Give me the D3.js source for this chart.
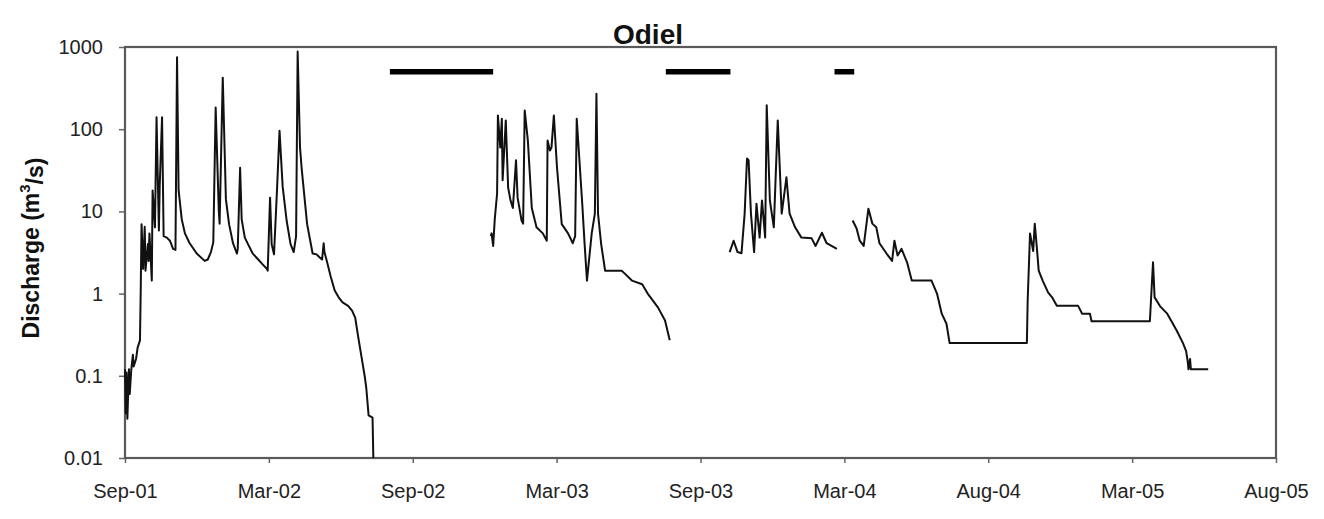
<!DOCTYPE html>
<html lang="en">
<head>
    <meta charset="UTF-8">
    <title>Odiel discharge</title>
    <script src="https://d3js.org/d3.v7.min.js"></script>
    <style>
        body { margin: 0; background: #fff; }
        text { font-family: "Liberation Sans", Arial, sans-serif; }
    </style>
</head>
<body>
<script>
    // record periods (date, discharge m3/s)
    var period1 = [
        ["2001-09-01",0.12],["2001-09-02",0.035],["2001-09-03",0.11],["2001-09-04",0.03],
        ["2001-09-06",0.12],["2001-09-07",0.06],["2001-09-09",0.12],["2001-09-11",0.18],
        ["2001-09-12",0.13],["2001-09-15",0.16],["2001-09-17",0.22],["2001-09-20",0.27],
        ["2001-09-21",1.2],["2001-09-22",7],["2001-09-24",2.0],["2001-09-26",6.5],
        ["2001-09-27",1.9],["2001-09-30",4],["2001-10-01",2.5],["2001-10-02",5.4],
        ["2001-10-05",1.44],["2001-10-06",18],["2001-10-09",6.4],["2001-10-11",140],
        ["2001-10-14",5.85],["2001-10-15",20],["2001-10-18",140],["2001-10-20",5],
        ["2001-10-24",4.8],["2001-10-28",4.4],["2001-11-01",3.5],["2001-11-04",3.4],
        ["2001-11-06",750],["2001-11-08",18],["2001-11-12",8],["2001-11-16",5.4],
        ["2001-11-22",4.1],["2001-12-01",3.07],["2001-12-11",2.5],["2001-12-15",2.6],
        ["2001-12-19",3.2],["2001-12-22",4.2],["2001-12-25",184],["2001-12-29",10],
        ["2001-12-30",7.1],["2002-01-03",424],["2002-01-07",14],["2002-01-11",7],
        ["2002-01-16",4.1],["2002-01-21",3.07],["2002-01-22",3.5],["2002-01-25",34],
        ["2002-01-27",8],["2002-01-31",4.8],["2002-02-04",4.0],["2002-02-10",3.07],
        ["2002-02-17",2.6],["2002-02-22",2.3],["2002-02-28",2.0],["2002-03-01",1.9],
        ["2002-03-04",14.7],["2002-03-06",4],["2002-03-09",3.0],["2002-03-13",20],
        ["2002-03-16",96],["2002-03-20",20],["2002-03-25",7.75],["2002-03-30",4],
        ["2002-04-03",3.2],["2002-04-06",5],["2002-04-08",880],["2002-04-11",60],
        ["2002-04-13",34],["2002-04-20",7],["2002-04-27",3.07],["2002-05-02",3.0],
        ["2002-05-06",2.75],["2002-05-09",2.6],["2002-05-11",4.1],["2002-05-12",3.2],
        ["2002-05-15",2.5],["2002-05-20",1.6],["2002-05-25",1.09],["2002-05-30",0.9],
        ["2002-06-04",0.78],["2002-06-11",0.71],["2002-06-16",0.62],["2002-06-20",0.51],
        ["2002-06-24",0.29],["2002-06-28",0.17],["2002-07-02",0.1],["2002-07-04",0.072],
        ["2002-07-07",0.033],["2002-07-12",0.031],["2002-07-13",0.01]
    ];
    var period2 = [
        ["2002-12-09",5.0],["2002-12-10",5.4],["2002-12-12",3.8],["2002-12-14",8],
        ["2002-12-17",16.5],["2002-12-18",147],["2002-12-21",60],["2002-12-23",134],
        ["2002-12-24",24],["2002-12-28",128],["2002-12-31",19.5],["2003-01-03",13.6],
        ["2003-01-06",11],["2003-01-10",42],["2003-01-12",14.7],["2003-01-17",7.75],
        ["2003-01-19",7.1],["2003-01-21",169],["2003-01-25",73],["2003-01-30",11],
        ["2003-02-05",6.4],["2003-02-13",5.4],["2003-02-18",4.4],["2003-02-19",73],
        ["2003-02-22",55],["2003-02-24",60],["2003-02-27",147],["2003-03-03",34],
        ["2003-03-09",7],["2003-03-17",5.4],["2003-03-23",4.1],["2003-03-26",5],
        ["2003-03-28",134],["2003-04-04",12.4],["2003-04-07",4],["2003-04-10",1.44],
        ["2003-04-16",5.4],["2003-04-20",9.4],["2003-04-22",270],["2003-04-24",9.4],
        ["2003-04-28",4],["2003-05-03",1.9],["2003-05-24",1.9],["2003-05-28",1.75],
        ["2003-06-06",1.44],["2003-06-19",1.3],["2003-06-26",1.0],["2003-07-09",0.68],
        ["2003-07-18",0.47],["2003-07-24",0.27]
    ];
    var period3 = [
        ["2003-10-08",3.2],["2003-10-13",4.4],["2003-10-18",3.2],["2003-10-23",3.1],
        ["2003-10-27",9.4],["2003-10-30",44],["2003-11-01",42],["2003-11-04",9.4],
        ["2003-11-08",3.2],["2003-11-11",12.4],["2003-11-15",4.8],["2003-11-18",13.6],
        ["2003-11-22",4.8],["2003-11-24",195],["2003-11-28",13.6],["2003-12-03",6.4],
        ["2003-12-08",128],["2003-12-13",9.4],["2003-12-19",26],["2003-12-23",9.4],
        ["2003-12-30",6.4],["2004-01-07",4.8],["2004-01-20",4.7],["2004-01-25",3.8],
        ["2004-02-02",5.5],["2004-02-08",4.1],["2004-02-21",3.5]
    ];
    var period4 = [
        ["2004-03-12",7.75],["2004-03-17",6.2],["2004-03-21",4.4],["2004-03-26",3.8],
        ["2004-04-01",10.8],["2004-04-06",7.1],["2004-04-11",6.4],["2004-04-15",4.1],
        ["2004-04-24",3.07],["2004-05-01",2.5],["2004-05-04",4.4],["2004-05-08",2.9],
        ["2004-05-13",3.5],["2004-05-20",2.4],["2004-05-26",1.44],["2004-06-20",1.44],
        ["2004-06-27",1.0],["2004-07-03",0.57],["2004-07-09",0.43],["2004-07-13",0.25],
        ["2004-10-19",0.25],["2004-10-20",0.82],["2004-10-23",5.4],["2004-10-27",3.3],
        ["2004-10-29",7.1],["2004-11-01",3.3],["2004-11-03",1.9],["2004-11-08",1.44],
        ["2004-11-15",1.03],["2004-11-20",0.9],["2004-11-26",0.71],["2004-12-23",0.71],
        ["2004-12-28",0.57],["2005-01-07",0.57],["2005-01-09",0.46],["2005-03-24",0.46],
        ["2005-03-28",2.4],["2005-03-30",0.9],["2005-04-06",0.7],["2005-04-15",0.57],
        ["2005-04-21",0.45],["2005-04-27",0.355],["2005-05-05",0.25],["2005-05-09",0.2],
        ["2005-05-11",0.15],["2005-05-12",0.12],["2005-05-14",0.16],["2005-05-15",0.12],
        ["2005-06-06",0.12]
    ];
    // periods without data, drawn as bars near the top
    var gapStarts = ["2002-08-03", "2003-07-19", "2004-02-18"];
    var gapEnds   = ["2002-12-12", "2003-10-09", "2004-03-14"];
    var gapLevel = 500;

    var yTicks = [0.01, 0.1, 1, 10, 100, 1000];
    var yTickLabels = ["0.01", "0.1", "1", "10", "100", "1000"];
    var xTickLabels = ["Sep-01", "Mar-02", "Sep-02", "Mar-03", "Sep-03", "Mar-04", "Aug-04", "Mar-05", "Aug-05"];

    var margin = {top: 47, right: 48, bottom: 61, left: 125},
        width = 1324 - margin.left - margin.right,
        height = 519 - margin.top - margin.bottom;

    var parse = d3.utcParse("%Y-%m-%d");
    var start = parse("2001-09-01");
    var dayMs = 86400000;
    // Excel-style date axis: major unit of 182.5 days
    var xTicks = xTickLabels.map(function(d, i) { return new Date(+start + i * 182.5 * dayMs); });

    var xScale = d3.scaleUtc()
        .domain([start, xTicks[xTicks.length - 1]])
        .range([0, width]);

    var yScale = d3.scaleLog()
        .domain([0.01, 1000])
        .range([height, 0]);

    var svg = d3.select("body").append("svg")
        .attr("width", 1324)
        .attr("height", 519)
        .append("g")
        .attr("transform", "translate(" + margin.left + "," + margin.top + ")");

    var x_axis = d3.axisBottom(xScale)
        .tickValues(xTicks)
        .tickFormat(function(d, i) { return xTickLabels[i]; })
        .tickSize(5)
        .tickSizeOuter(0)
        .tickPadding(21);

    var y_axis = d3.axisLeft(yScale)
        .tickValues(yTicks)
        .tickFormat(function(d, i) { return yTickLabels[i]; })
        .tickSize(6)
        .tickSizeOuter(0)
        .tickPadding(16);

    //x-axis
    var gx = svg.append("g")
        .attr("transform", "translate(0," + height + ")")
        .call(x_axis);

    //y-axis
    var gy = svg.append("g")
        .call(y_axis);

    [gx, gy].forEach(function(g) {
        g.select(".domain").remove();
        g.selectAll("line").attr("stroke", "#666").attr("stroke-width", 1.5);
        g.selectAll("text")
            .attr("fill", "#222")
            .style("font-size", "20px");
    });

    // plot frame
    svg.append("rect")
        .attr("width", width)
        .attr("height", height)
        .attr("fill", "none")
        .attr("stroke", "#5a5a5a")
        .attr("stroke-width", 2.2);

    var line = d3.line()
        .x(function(d) { return xScale(parse(d[0])); })
        .y(function(d) { return yScale(d[1]); });

    svg.selectAll("path.flow")
        .data([period1, period2, period3, period4])
        .enter().append("path")
        .attr("class", "flow")
        .attr("d", line)
        .attr("fill", "none")
        .attr("stroke", "#111")
        .attr("stroke-width", 2)
        .attr("stroke-linejoin", "round");

    svg.selectAll("line.gap")
        .data(gapStarts)
        .enter().append("line")
        .attr("class", "gap")
        .attr("x1", function(d) { return xScale(parse(d)); })
        .attr("x2", function(d, i) { return xScale(parse(gapEnds[i])); })
        .attr("y1", yScale(gapLevel))
        .attr("y2", yScale(gapLevel))
        .attr("stroke", "#000")
        .attr("stroke-width", 5.5);

    //Heading
    svg.append("text")
        .attr("x", 648 - margin.left)
        .attr("y", -3)
        .attr("text-anchor", "middle")
        .style("font-size", "28px")
        .style("font-weight", "bold")
        .attr("fill", "#111")
        .text("Odiel");

    //y-axis label
    var ylab = svg.append("text")
        .attr("x", -(248 - margin.top))
        .attr("y", 31 - margin.left)
        .attr("transform", "rotate(-90)")
        .attr("text-anchor", "middle")
        .attr("dominant-baseline", "central")
        .style("font-size", "23px")
        .style("font-weight", "bold")
        .attr("fill", "#111");
    ylab.append("tspan").text("Discharge (m");
    ylab.append("tspan").attr("dy", "-0.45em").style("font-size", "15px").text("3");
    ylab.append("tspan").attr("dy", "0.45em").text("/s)");
</script>
</body>
</html>
